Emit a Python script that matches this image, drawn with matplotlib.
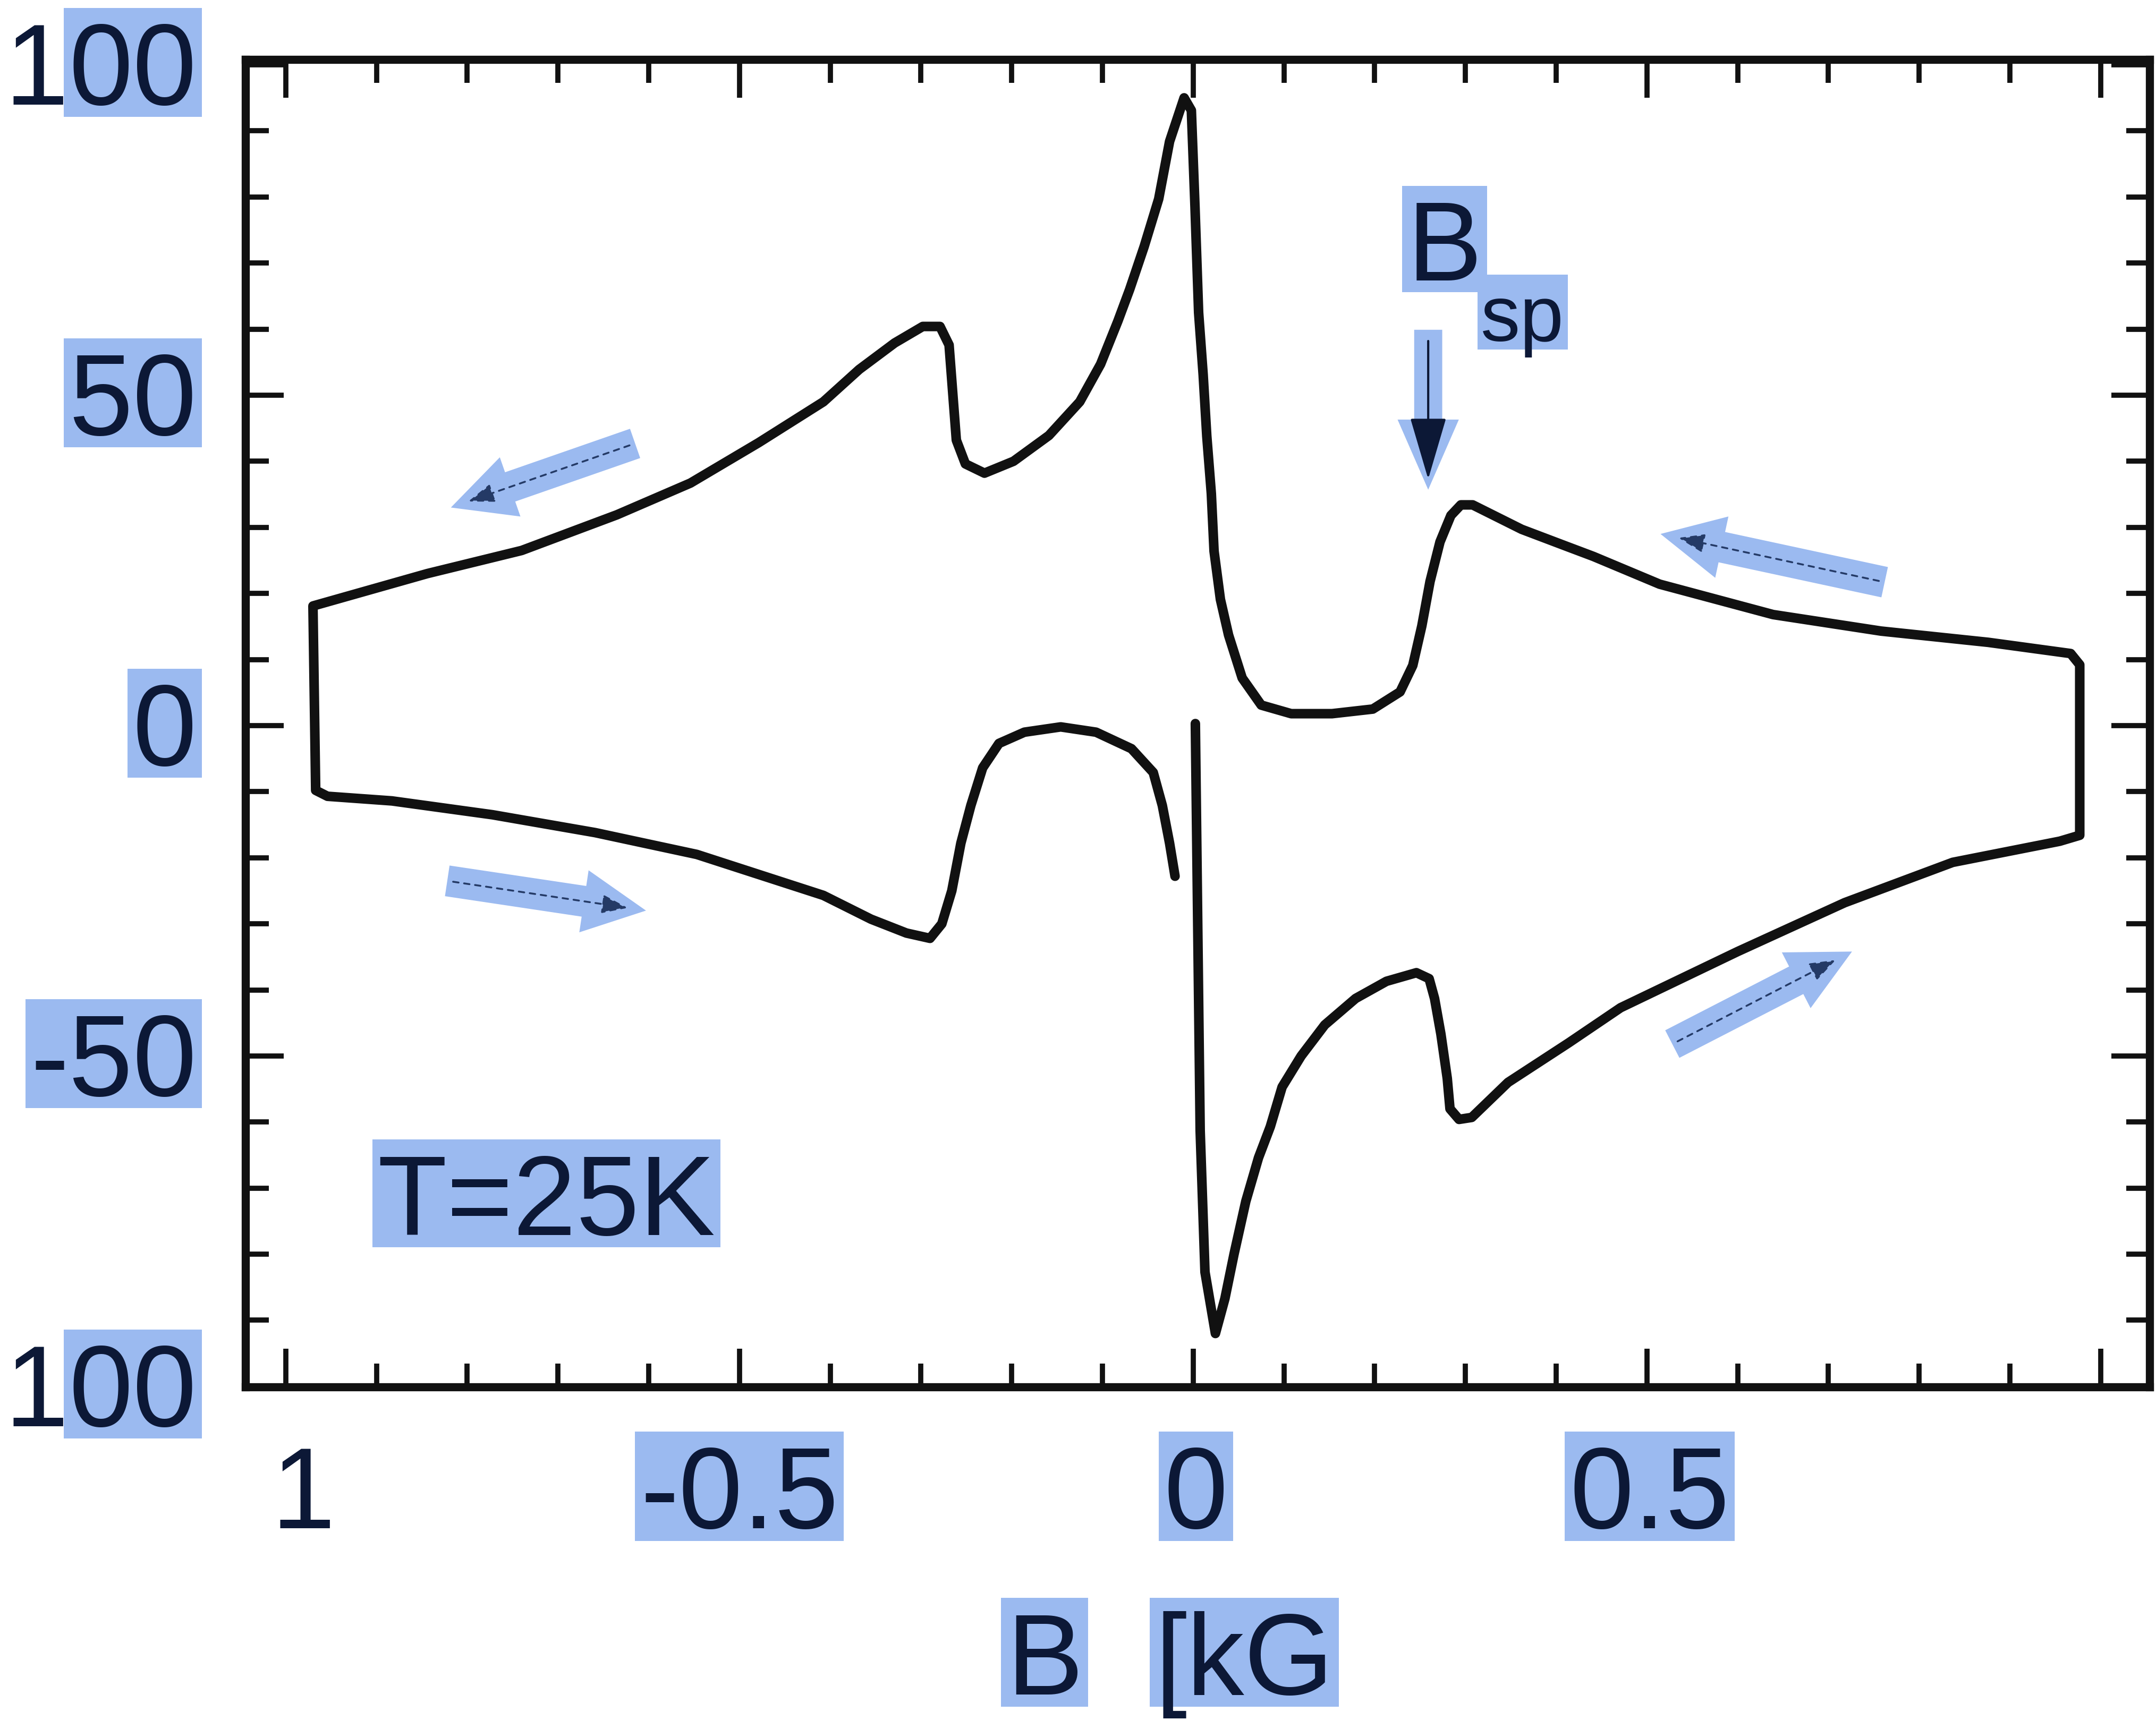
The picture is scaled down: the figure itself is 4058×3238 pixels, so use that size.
import matplotlib
matplotlib.use("Agg")
import matplotlib.pyplot as plt
from matplotlib.path import Path
from matplotlib.ticker import MultipleLocator

# ---------------- data ----------------
B_kG = [0.0024, 0.0077, 0.013, 0.0245, 0.035, 0.045, 0.058, 0.072, 0.085, 0.098,
        0.119, 0.145, 0.179, 0.213, 0.246, 0.260, 0.266, 0.273, 0.280, 0.283,
        0.293, 0.307, 0.347, 0.414, 0.471, 0.600, 0.718, 0.837, 0.955, 0.977,
        0.977, 0.967, 0.876, 0.758, 0.639, 0.514, 0.441, 0.412, 0.362, 0.308,
        0.295, 0.284, 0.272, 0.261, 0.252, 0.242, 0.228, 0.198, 0.153, 0.108,
        0.075, 0.054, 0.039, 0.030, 0.023, 0.020, 0.015, 0.011, 0.006, 0.002,
        -0.002, -0.010,
        -0.026, -0.038, -0.054, -0.070, -0.083, -0.102, -0.125, -0.159, -0.198,
        -0.230, -0.251, -0.261, -0.265, -0.269, -0.279, -0.298, -0.329, -0.368,
        -0.4075, -0.479, -0.554, -0.635, -0.740, -0.844, -0.970,
        -0.967, -0.954, -0.883, -0.772, -0.659, -0.547, -0.4075, -0.355, -0.316,
        -0.290, -0.277, -0.266, -0.256, -0.245, -0.232, -0.214, -0.186, -0.146,
        -0.107, -0.068, -0.044, -0.034, -0.026, -0.020]
M_signal = [0.3, -61.3, -82.7, -92.0, -86.7, -80.0, -72.0, -65.4, -60.7, -54.7,
            -50.0, -45.3, -41.3, -38.7, -37.4, -38.3, -41.3, -46.7, -53.4, -58.0,
            -59.6, -59.3, -54.0, -48.0, -42.7, -34.2, -26.8, -20.7, -17.5, -16.6,
            9.2, 10.9, 12.6, 14.3, 16.8, 21.4, 25.6, 27.1, 29.7, 33.4,
            33.4, 31.8, 27.8, 21.8, 15.1, 9.1, 5.1, 2.5, 1.8, 1.8,
            3.1, 7.2, 13.7, 19.1, 26.4, 35.1, 43.8, 53.1, 62.5, 78.5,
            93.1, 95.0,
            88.4, 79.7, 72.5, 66.0, 61.2, 54.7, 49.0, 43.9, 40.0,
            38.2, 39.6, 43.2, 50.4, 57.6, 60.4, 60.4, 57.9, 53.9,
            49.0, 42.8, 36.7, 31.9, 26.5, 23.0, 18.1,
            -9.8, -10.7, -11.4, -13.5, -16.2, -19.5, -25.7, -29.3, -31.4,
            -32.2, -30.0, -25.0, -17.8, -12.1, -6.4, -2.7, -1.0, -0.2,
            -1.0, -3.5, -7.1, -12.1, -17.8, -22.8]

xtick_values = [-1.0, -0.5, 0.0, 0.5, 1.0]
xtick_labels = ["1", "-0.5", "0", "0.5", ""]
ytick_values = [100, 50, 0, -50, -100]
ytick_labels = ["100", "50", "0", "-50", "100"]

xlabel_parts = ["B", "[kG"]
temperature_text = "T=25K"
bsp_main, bsp_sub = "B", "sp"

# ---------------- style ----------------
FONT = ["Liberation Sans", "DejaVu Sans"]
TXT = "#0c1836"
HL = "#9bbaf0"
INK = "#111111"
FS = 156

fig = plt.figure(figsize=(40.58, 32.38), dpi=100)
ax = fig.add_axes([0.1138, 0.1936, 0.8832, 0.7718])
ax.set_xlim(-1.0445, 1.0539)
ax.set_ylim(-100.1, 100.8)

ax.plot(B_kG, M_signal, color=INK, lw=13, solid_joinstyle="round",
        solid_capstyle="round", zorder=3)

for sp in ax.spines.values():
    sp.set_linewidth(11)
    sp.set_color(INK)

ax.set_xticks(xtick_values)
ax.set_yticks(ytick_values)
ax.xaxis.set_minor_locator(MultipleLocator(0.1))
ax.yaxis.set_minor_locator(MultipleLocator(10))
ax.tick_params(which="both", direction="in", top=True, right=True,
               labelbottom=False, labelleft=False, color=INK)
ax.tick_params(which="major", length=52, width=7)
ax.tick_params(which="minor", length=32, width=7)


def hl_box(x0, y0, width, height, mutation_size):
    m = mutation_size
    l = x0 - 0.045 * m
    r = x0 + width + 0.045 * m
    b = y0 + 0.10 * m
    t = y0 + height + 0.115 * m
    return Path([(l, b), (r, b), (r, t), (l, t), (l, b)], closed=True)


def draw_label(x, y, s, n_plain, transform, ha="center", size=FS):
    plain, hi = s[:n_plain], s[n_plain:]
    kw = dict(fontsize=size, color=TXT, family=FONT, clip_on=False,
              va="baseline", transform=transform, zorder=5)
    if hi:
        t = ax.text(x, y, hi, ha=ha,
                    bbox=dict(boxstyle=hl_box, fc=HL, ec="none", lw=0), **kw)
        if plain:
            ax.annotate(plain, xy=(0, 0), xycoords=t, ha="right", va="bottom",
                        fontsize=size, color=TXT, family=FONT,
                        annotation_clip=False, zorder=5)
        return t
    return ax.text(x, y, plain, ha=ha, **kw)


# y tick labels (left), partially highlighted like the scan
y_plain = [1, 0, 0, 0, 1]
yblend = ax.get_yaxis_transform()  # x in axes fraction, y in data
for v, lab, npl in zip(ytick_values, ytick_labels, y_plain):
    draw_label(-0.0255, v - 6.0, lab, npl, yblend, ha="right")

# x tick labels (bottom)
x_plain = [1, 0, 0, 0, 0]
x_shift = [0.019, 0.0, 0.003, 0.003, 0.0]
for v, lab, npl, dx in zip(xtick_values, xtick_labels, x_plain, x_shift):
    if lab:
        draw_label(v + dx, -121.5, lab, npl, ax.transData, ha="center")

# axis label "B [kG"
draw_label(0.4667, 0.0148, xlabel_parts[0], 0, fig.transFigure, ha="left")
draw_label(0.5357, 0.0148, xlabel_parts[1], 0, fig.transFigure, ha="left")

# temperature annotation
draw_label(-0.899, -77.1, temperature_text, 0, ax.transData, ha="left", size=154)

# B_sp label and arrow
draw_label(0.236, 67.4, bsp_main, 0, ax.transData, ha="left", size=152)
draw_label(0.317, 58.2, bsp_sub, 0, ax.transData, ha="left", size=107)
ax.annotate("", xy=(0.259, 35.7), xytext=(0.259, 59.9),
            arrowprops=dict(arrowstyle="simple,head_length=0.95,head_width=0.83,tail_width=0.38",
                            mutation_scale=100, fc=HL, ec="none", lw=0,
                            shrinkA=0, shrinkB=0), zorder=2)
ax.annotate("", xy=(0.259, 37.3), xytext=(0.259, 58.2),
            arrowprops=dict(arrowstyle="-|>,head_length=0.75,head_width=0.22",
                            mutation_scale=100, color=TXT, lw=3,
                            shrinkA=0, shrinkB=0), zorder=4)

# sweep-direction arrows (blue highlighted, dashed inner arrow)
sweep_tails = [(-0.615, 42.7), (-0.822, -23.5), (0.762, 21.7), (0.528, -48.2)]
sweep_tips = [(-0.818, 33.0), (-0.603, -28.0), (0.515, 29.0), (0.726, -34.2)]
for tail, tip in zip(sweep_tails, sweep_tips):
    ax.annotate("", xy=tip, xytext=tail,
                arrowprops=dict(arrowstyle="simple,head_length=0.85,head_width=0.85,tail_width=0.42",
                                mutation_scale=100, fc=HL, ec="none", lw=0,
                                shrinkA=0, shrinkB=0), zorder=2)
    ax.annotate("", xy=tip, xytext=tail,
                arrowprops=dict(arrowstyle="-|>,head_length=0.5,head_width=0.18",
                                mutation_scale=60, color="#243a66", lw=2.5,
                                linestyle=(0, (3, 3)), shrinkA=8, shrinkB=25),
                zorder=2.5)

fig.savefig("out.png", dpi=100)
